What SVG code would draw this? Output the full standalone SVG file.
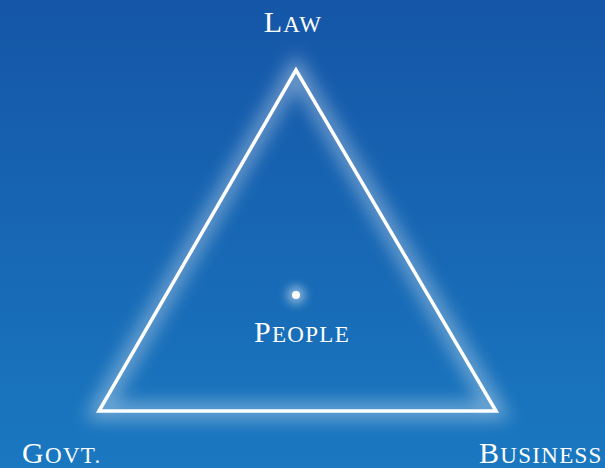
<svg xmlns="http://www.w3.org/2000/svg" width="605" height="468" viewBox="0 0 605 468">
<defs>
<linearGradient id="bg" x1="0" y1="0" x2="0" y2="1">
<stop offset="0" stop-color="#1556a7"/>
<stop offset="1" stop-color="#1a78c0"/>
</linearGradient>
<filter id="glow" x="-20%" y="-20%" width="140%" height="140%">
<feGaussianBlur stdDeviation="9"/>
</filter>
<filter id="dotglow" x="-200%" y="-200%" width="500%" height="500%">
<feGaussianBlur stdDeviation="5"/>
</filter>
</defs>
<style>
.lbl{font-family:"Liberation Serif","DejaVu Serif",serif;fill:#ffffff;font-size:30px;letter-spacing:1.3px}
.sc{font-size:23px}
.edge{fill:none;stroke:#ffffff;stroke-width:3.5;stroke-linejoin:miter}
.halo{fill:none;stroke:#ffffff;stroke-width:16;opacity:0.4;filter:url(#glow)}
</style>
<rect width="605" height="468" fill="url(#bg)"/>
<g id="connectors">
<polygon class="halo" points="296,70 99,411 496,411"/>
<polygon class="edge" points="296,70 99,411 496,411"/>
</g>
<g id="law"><text class="lbl" x="293" y="32" text-anchor="middle">L<tspan class="sc">AW</tspan></text></g>
<g id="people">
<circle cx="296" cy="295" r="9" fill="#ffffff" opacity="0.5" filter="url(#dotglow)"/>
<circle cx="296" cy="295" r="4" fill="#ffffff"/>
<text class="lbl" x="302" y="342" text-anchor="middle">P<tspan class="sc">EOPLE</tspan></text>
</g>
<g id="govt"><text class="lbl" x="22" y="463">G<tspan class="sc">OVT.</tspan></text></g>
<g id="business"><text class="lbl" x="479" y="463">B<tspan class="sc">USINESS</tspan></text></g>
</svg>
